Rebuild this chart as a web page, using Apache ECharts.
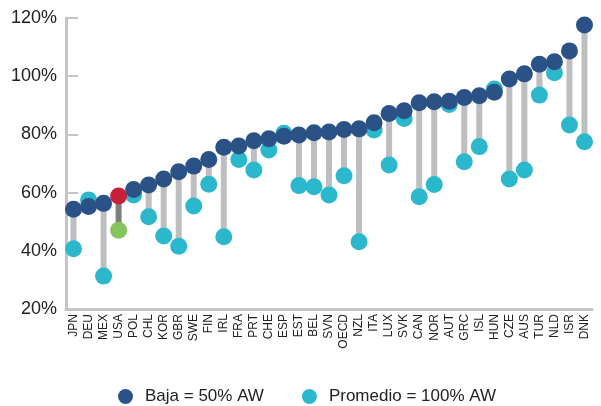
<!DOCTYPE html>
<html>
<head>
<meta charset="utf-8">
<script src="https://cdn.jsdelivr.net/npm/echarts@6/dist/echarts.min.js"></script>
<style>
  html, body { margin: 0; padding: 0; background: #ffffff; }
  #chart { width: 601px; height: 406px; }
</style>
</head>
<body>
<div id="chart"></div>
<script>
// Countries, ordered by the low-wage rate
const categories = ['JPN','DEU','MEX','USA','POL','CHL','KOR','GBR','SWE','FIN','IRL','FRA','PRT','CHE','ESP','EST','BEL','SVN','OECD','NZL','ITA','LUX','SVK','CAN','NOR','AUT','GRC','ISL','HUN','CZE','AUS','TUR','NLD','ISR','DNK'];

// Rate at 50% of the average wage
const baja = [54.3,55.2,56.3,58.8,61.1,62.6,64.7,67.2,69.1,71.4,75.6,76.0,77.8,78.5,79.4,79.8,80.6,80.8,81.7,81.9,84.0,87.2,88.1,90.9,91.2,91.4,92.7,93.3,94.5,99.0,100.8,104.1,105.0,108.7,117.6];

// Rate at 100% of the average wage
const promedio = [40.7,57.5,31.3,47.1,59.2,51.7,45.1,41.6,55.4,62.9,44.8,71.4,67.8,74.6,80.4,62.4,62.0,59.2,65.8,43.1,81.5,69.5,85.5,58.6,62.8,90.3,70.6,75.8,95.6,64.7,67.8,93.5,101.2,83.2,77.5];

// Y axis ticks
const yTicks = { min: 20, max: 120, step: 20 };

const seriesNames = ['Baja = 50% AW', 'Promedio = 100% AW'];
const highlight = 'USA';

const FONT = '"Liberation Sans", Arial, sans-serif';
const TEXT = '#222222';
const DARK = '#2a5287';
const CYAN = '#2bb8cc';
const GRAY = '#bdbec1';
const AXIS = '#c4c5c8';

const stemData = categories.map((c, i) => [i, baja[i], promedio[i]]);
const bajaData = baja.map((v, i) => categories[i] === highlight
  ? { value: v, itemStyle: { color: '#c8203a' } } : v);
const promData = promedio.map((v, i) => categories[i] === highlight
  ? { value: v, itemStyle: { color: '#86c45e' } } : v);

const chart = echarts.init(document.getElementById('chart'), null, { renderer: 'canvas' });

chart.setOption({
  animation: false,
  backgroundColor: '#ffffff',
  grid: { left: 66, right: 9, top: 18, bottom: 97 },
  legend: {
    data: seriesNames,
    left: 113,
    top: 383,
    icon: 'circle',
    itemWidth: 15,
    itemHeight: 15,
    itemGap: 38,
    textStyle: { fontFamily: FONT, fontSize: 17, color: TEXT, padding: [0, 0, 0, 7] }
  },
  xAxis: {
    type: 'category',
    data: categories,
    boundaryGap: true,
    axisLine: { lineStyle: { color: AXIS, width: 3 } },
    axisTick: { inside: true, length: 6, lineStyle: { color: AXIS, width: 2 } },
    axisLabel: {
      rotate: 90, margin: 5, interval: 0,
      fontFamily: FONT, fontSize: 12, color: TEXT
    }
  },
  yAxis: {
    type: 'value',
    min: yTicks.min,
    max: yTicks.max,
    interval: yTicks.step,
    axisLine: { show: true, lineStyle: { color: AXIS, width: 3 } },
    axisTick: { show: true, inside: true, length: 12, lineStyle: { color: AXIS, width: 2 } },
    splitLine: { show: false },
    axisLabel: {
      formatter: '{value}%', margin: 9,
      fontFamily: FONT, fontSize: 18, color: TEXT
    }
  },
  series: [
    {
      type: 'custom',
      name: 'stem',
      data: stemData,
      encode: { x: 0, y: [1, 2] },
      z: 1,
      silent: true,
      renderItem: function (params, api) {
        const i = api.value(0);
        const top = api.coord([i, api.value(1)]);
        const bot = api.coord([i, api.value(2)]);
        const isHi = categories[i] === highlight;
        return {
          type: 'line',
          shape: { x1: top[0], y1: top[1], x2: bot[0], y2: bot[1] },
          style: { stroke: isHi ? '#7f7f80' : GRAY, lineWidth: 6 }
        };
      }
    },
    {
      type: 'scatter',
      name: seriesNames[1],
      data: promData,
      symbolSize: 17,
      itemStyle: { color: CYAN, opacity: 1 },
      z: 2
    },
    {
      type: 'scatter',
      name: seriesNames[0],
      data: bajaData,
      symbolSize: 17,
      itemStyle: { color: DARK, opacity: 1 },
      z: 3
    }
  ]
});
</script>
</body>
</html>
